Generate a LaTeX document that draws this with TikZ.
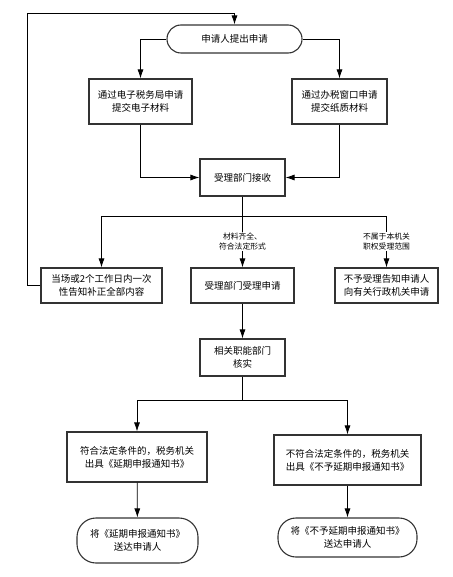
\documentclass[tikz,border=0pt]{standalone}
\usepackage{fontspec}
\setmainfont{Noto Sans CJK SC}
\usetikzlibrary{arrows.meta}
\tikzset{
  box/.style={draw=black!80,line width=1.1pt,align=center,inner sep=0pt,
    font=\fontsize{9.5}{13}\selectfont},
  term/.style={box,rounded corners=#1},
  lbl/.style={fill=white,align=center,inner sep=1pt,
    font=\fontsize{7.8}{10}\selectfont},
  con/.style={->,line width=0.8pt}
}
\begin{document}
\begin{tikzpicture}[>={Latex[length=9pt,width=6pt]},x=1pt,y=-1pt]
\useasboundingbox (0,0) rectangle (452,577);
% oben
\node[term=14pt,minimum width=135pt,minimum height=28pt] (apply) at (234.5,39) {申请人提出申请};
\node[box,minimum width=103pt,minimum height=45pt] (web) at (140.5,101.5) {通过电子税务局申请\\提交电子材料};
\node[box,minimum width=95pt,minimum height=45pt] (win) at (339.5,101.5) {通过办税窗口申请\\提交纸质材料};
\node[box,minimum width=85pt,minimum height=37pt] (recv) at (242.5,177.5) {受理部门接收};
\draw[con] (apply.west) -| (web.north);
\draw[con] (apply.east) -| (win.north);
\draw[con] (web.south) |- (recv.west);
\draw[con] (win.south) |- (recv.east);

% Verzweigung
\coordinate (split) at (242.5,216);
\node[box,minimum width=121pt,minimum height=35pt] (fix) at (101.5,285.5) {当场或2个工作日内一次\\性告知补正全部内容};
\node[box,minimum width=103pt,minimum height=35pt] (accept) at (242.5,285.5) {受理部门受理申请};
\node[box,minimum width=103pt,minimum height=35pt] (reject) at (386.5,285.5) {不予受理告知申请人\\向有关行政机关申请};
\draw[line width=0.8pt] (recv.south) -- (split);
\draw[con] (split) -| (fix.north);
\draw[con] (split) -- node[lbl] {材料齐全、\\符合法定形式} (accept.north);
\draw[con] (split) -| node[lbl,pos=0.75] {不属于本机关\\职权受理范围} (reject.north);
\coordinate (loop) at (27,13);
\draw[con] (fix.west) -| (loop) -| (apply.north);

% unten
\node[box,minimum width=85pt,minimum height=37pt] (verify) at (242.5,357.5) {相关职能部门\\核实};
\draw[con] (accept) -- (verify);
\coordinate (split2) at (242.5,400);
\node[box,minimum width=140pt,minimum height=50pt] (ok) at (137,457) {符合法定条件的，税务机关\\出具《延期申报通知书》};
\node[box,minimum width=147pt,minimum height=50pt] (no) at (347.5,460) {不符合法定条件的，税务机关\\出具《不予延期申报通知书》};
\draw[line width=0.8pt] (verify.south) -- (split2);
\draw[con] (split2) -| (ok.north);
\draw[con] (split2) -| (no.north);
\node[term=19pt,minimum width=121pt,minimum height=45pt] (okend) at (137.5,540.5) {将《延期申报通知书》\\送达申请人};
\node[term=18pt,minimum width=139pt,minimum height=39pt] (noend) at (347.5,537.5) {将《不予延期申报通知书》\\送达申请人};
\draw[con] (ok) -- (okend);
\draw[con] (no) -- (noend);
\end{tikzpicture}
\end{document}
